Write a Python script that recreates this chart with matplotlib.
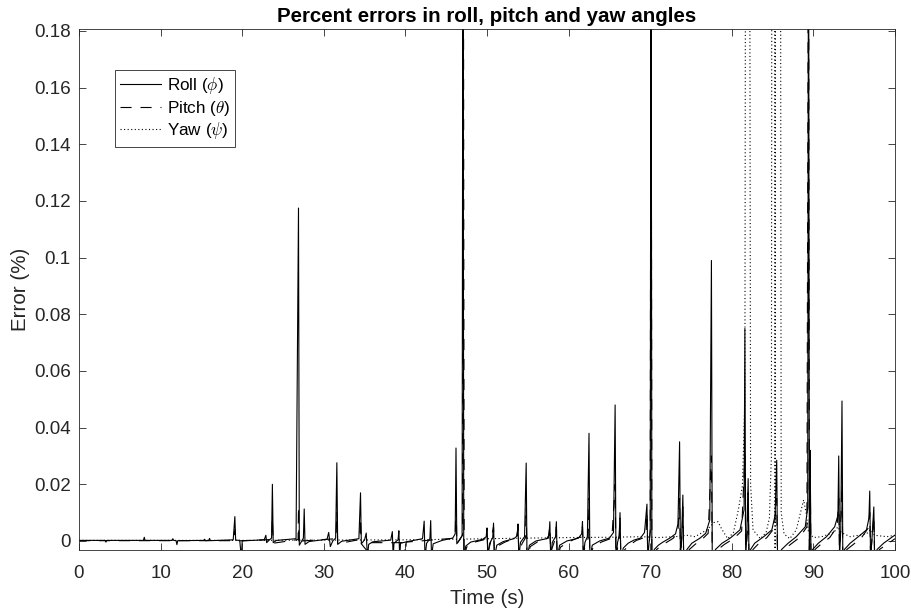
import numpy as np
import matplotlib.pyplot as plt
from matplotlib.ticker import FuncFormatter

nan = np.nan

# (time s, error %) points
roll_pts = [
    (0, 0.0002), (3.2, 0.0002), (3.3, -0.0004), (3.4, 0.0002), (7.9, 0.0002), (8.0, 0.0013), (8.1, 0.0002),
    (11.4, 0.0002), (11.5, 0.0008), (11.6, 0.0002), (11.9, 0.0001), (12.0, -0.0013), (12.1, 0.0001),
    (15.3, 0.0002), (15.4, 0.0006), (15.5, 0.0001), (15.9, 0.0002), (16.0, 0.0009), (16.1, 0.0001),
    (18.9, 0.0004), (19.1, 0.0086), (19.2, 0.0003), (19.7, 0.0002), (19.9, -0.006), (20.0, 0.0), (20.5, 0.0001),
    (22.7, 0.0004), (22.9, 0.002), (23.0, -0.0006), (23.3, 0.0003), (23.6, 0.001), (23.7, 0.020), (23.8, -0.0006),
    (24.2, 0.0002), (26.6, 0.0008), (26.9, 0.1175), (27.0, -0.0015), (27.3, 0.0), (27.5, 0.001), (27.6, 0.0113),
    (27.7, -0.0012), (28.2, -0.0002), (30.4, 0.0006), (30.6, 0.003), (30.8, -0.002), (31.1, 0.0), (31.45, 0.001),
    (31.6, 0.0276), (31.7, -0.0012), (32.2, -0.0001), (34.3, 0.0008), (34.5, 0.017), (34.6, -0.001), (35.0, 0.0004),
    (35.2, 0.0028), (35.35, -0.006), (35.5, -0.0012), (36.0, -0.0003), (38.2, 0.0003), (38.4, 0.0033), (38.5, -0.006),
    (38.6, -0.0008), (39.1, 0.0004), (39.2, 0.0036), (39.3, -0.006), (39.4, -0.0008), (40.3, -0.0002),
    (42.1, 0.0008), (42.3, 0.007), (42.4, -0.006), (42.6, -0.0008), (43.0, 0.0008), (43.1, 0.0072), (43.2, -0.006),
    (43.4, -0.001), (44.5, 0.0002), (45.8, 0.001), (46.1, 0.0025), (46.2, 0.0328), (46.3, -0.001), (46.7, 0.0006),
    (46.95, 0.002), (47.05, 0.25), (47.15, -0.006), (47.4, -0.0018), (48.0, -0.0004), (49.5, 0.0006), (49.9, 0.0015),
    (50.0, 0.0046), (50.1, -0.006), (50.3, -0.001), (50.7, 0.0012), (50.8, 0.0063), (50.9, -0.006), (51.2, -0.0015),
    (52.0, -0.0002), (53.3, 0.0008), (53.7, 0.0018), (53.8, 0.006), (53.9, -0.006), (54.1, -0.0005), (54.6, 0.0015),
    (54.8, 0.0275), (54.9, -0.006), (55.2, -0.0015), (56.0, 0.0), (57.3, 0.0008), (57.6, 0.002), (57.7, 0.0068),
    (57.8, -0.006), (58.0, -0.0005), (58.4, 0.0015), (58.5, 0.0068), (58.6, -0.006), (58.9, -0.0015), (59.8, 0.0),
    (61.2, 0.001), (61.6, 0.0025), (61.7, 0.0068), (61.8, -0.006), (62.0, -0.0005), (62.3, 0.0015), (62.5, 0.038),
    (62.6, -0.006), (62.9, -0.0015), (63.8, 0.0), (65.0, 0.001), (65.5, 0.003), (65.7, 0.048), (65.8, -0.006),
    (66.0, -0.0005), (66.2, 0.002), (66.3, 0.010), (66.4, -0.006), (66.7, -0.0025), (67.3, -0.0008), (68.0, 0.0003),
    (68.8, 0.001), (69.3, 0.003), (69.6, 0.013), (69.7, -0.006), (69.85, -0.001), (70.0, 0.004), (70.1, 0.25),
    (70.2, -0.006), (70.5, -0.003), (71.0, -0.0015), (71.5, -0.0005), (72.4, 0.001), (73.1, 0.0025), (73.4, 0.006),
    (73.6, 0.035), (73.7, -0.006), (73.85, 0.001), (74.0, 0.0162), (74.1, -0.006), (74.5, -0.003), (75.1, -0.0008),
    (76.1, 0.001), (76.8, 0.0027), (77.3, 0.0074), (77.5, 0.099), (77.6, -0.006), (78.0, -0.003), (78.8, -0.0008),
    (79.8, 0.001), (81.0, 0.0039), (81.5, 0.011), (81.6, 0.075), (81.7, -0.006), (81.85, 0.003), (82.0, 0.022),
    (82.1, -0.006), (82.3, -0.003), (82.8, -0.0008), (83.9, 0.0015), (84.9, 0.0039), (85.3, 0.009), (85.5, 0.0285),
    (85.6, -0.006), (86.1, -0.003), (86.9, -0.0008), (87.9, 0.0015), (89.0, 0.005), (89.3, 0.012), (89.4, 0.25),
    (89.5, -0.006), (89.55, 0.004), (89.6, 0.032), (89.7, -0.006), (89.9, -0.003), (90.6, -0.0008), (91.6, 0.0015),
    (92.6, 0.005), (93.0, 0.009), (93.1, 0.030), (93.2, -0.006), (93.35, 0.004), (93.5, 0.0494), (93.6, -0.006),
    (93.8, -0.003), (94.5, -0.0008), (95.5, 0.0015), (96.5, 0.0039), (96.8, 0.008), (96.9, 0.0176), (97.0, -0.006),
    (97.2, 0.002), (97.4, 0.012), (97.5, -0.006), (97.8, -0.003), (98.6, -0.0008), (99.8, 0.0017), (100, 0.002),
]

pitch_pts = [
    (0, 0.0001), (18.9, 0.0001), (19.1, 0.004), (19.2, 0.0), (23.6, 0.0005), (23.7, 0.008), (23.8, -0.0008),
    (26.85, 0.0005), (26.9, 0.012), (26.95, -0.0015), (27.4, 0.0), (31.5, 0.0008), (31.6, 0.01), (31.7, -0.001),
    (34.4, 0.0005), (34.5, 0.008), (34.6, -0.001), (35.3, -0.0035), (35.6, -0.0006), (39.9, -0.0006),
    (40.0, -0.006), (40.1, -0.0004), (46.1, 0.001), (46.2, 0.015), (46.3, -0.001), (47.0, 0.002), (47.1, 0.25),
    (47.2, -0.006), (47.5, -0.0022), (48.2, -0.0006), (49.6, 0.0004), (50.0, 0.0035), (50.1, -0.004), (50.4, -0.001),
    (50.8, 0.005), (50.9, -0.004), (51.3, -0.0018), (52.2, -0.0004), (53.6, 0.0012), (53.8, 0.0045), (53.9, -0.004),
    (54.3, -0.0009), (54.7, 0.001), (54.8, 0.012), (54.9, -0.006), (55.3, -0.002), (56.2, -0.0003), (57.5, 0.001),
    (57.7, 0.005), (57.8, -0.004), (58.4, 0.001), (58.5, 0.005), (58.6, -0.006), (59.0, -0.0022), (60.0, -0.0003),
    (61.5, 0.0015), (61.7, 0.005), (61.8, -0.004), (62.4, 0.001), (62.5, 0.015), (62.6, -0.006), (63.0, -0.0022),
    (64.0, -0.0004), (65.3, 0.001), (65.7, 0.02), (65.8, -0.006), (66.2, 0.001), (66.3, 0.008), (66.4, -0.006),
    (66.9, -0.003), (67.6, -0.0012), (68.3, 0.0002), (69.0, 0.0009), (69.5, 0.003), (69.6, 0.01), (69.7, -0.006),
    (70.0, 0.003), (70.1, 0.25), (70.2, -0.006), (70.8, -0.003), (71.4, -0.0015), (72.0, -0.0005), (72.8, 0.0009),
    (73.4, 0.003), (73.6, 0.015), (73.7, -0.006), (73.9, 0.002), (74.0, 0.012), (74.1, -0.006), (74.8, -0.003),
    (75.5, -0.0012), (76.4, 0.0007), (77.1, 0.0027), (77.5, 0.03), (77.6, -0.006), (78.3, -0.003), (79.1, -0.0012),
    (80.2, 0.0008), (81.2, 0.0035), (81.6, 0.03), (81.7, -0.006), (81.9, 0.003), (82.0, 0.017), (82.1, -0.006),
    (82.6, -0.003), (83.2, -0.0012), (84.3, 0.0012), (85.2, 0.0045), (85.5, 0.015), (85.6, -0.006), (86.4, -0.003),
    (87.2, -0.0012), (88.3, 0.0012), (89.2, 0.005), (89.4, 0.25), (89.5, -0.006), (89.6, 0.025), (89.7, -0.006),
    (90.2, -0.003), (90.9, -0.0012), (92.0, 0.0012), (92.9, 0.005), (93.1, 0.015), (93.2, -0.006), (93.5, 0.02),
    (93.6, -0.006), (94.1, -0.003), (94.9, -0.0012), (95.9, 0.0012), (96.7, 0.0045), (96.9, 0.01), (97.0, -0.006),
    (97.4, 0.009), (97.5, -0.006), (98.1, -0.003), (99.0, -0.0012), (100, 0.0008),
]

yaw_pts = [
    (0, 0.0002), (20, 0.0002), (30, 0.0003), (40, 0.0004), (46, 0.0006), (50, 0.0008), (55, 0.001), (60, 0.0012),
    (65, 0.0013), (69, 0.0015), (71, 0.0012), (73, 0.0015), (74.5, 0.002), (75.5, 0.0015), (77.0, 0.004),
    (77.8, 0.0065), (78.3, 0.0068), (78.8, 0.004), (79.5, 0.0008), (80.2, 0.003), (80.8, 0.011), (81.3, 0.0195),
    (81.6, 0.05), (81.75, 0.4), (nan, nan), (82.1, 0.4), (82.3, 0.02), (82.6, 0.0039), (83.5, 0.0008),
    (84.2, 0.003), (84.6, 0.008), (84.85, 0.03), (84.95, 0.4), (nan, nan), (85.2, 0.4), (85.3, -0.006),
    (85.4, 0.4), (nan, nan), (85.9, 0.4), (86.05, 0.01), (86.4, 0.0025), (87.1, 0.0008), (87.9, 0.0039),
    (88.5, 0.011), (88.8, 0.0145), (89.1, 0.01), (89.4, 0.003), (90.0, 0.0012), (91.0, 0.0015), (92.5, 0.003),
    (93.0, 0.005), (93.4, 0.003), (94.5, 0.0015), (96.5, 0.0025), (97.0, 0.004), (97.5, 0.002), (99, 0.0015),
    (100, 0.002),
]

plt.rcParams['font.family'] = ['Liberation Sans', 'DejaVu Sans']
plt.rcParams['mathtext.fontset'] = 'cm'

fig = plt.figure(figsize=(9.12, 6.14), dpi=100)
ax = fig.add_axes([0.0866, 0.1042, 0.8948, 0.8486])

grey = '#262626'
for pts, ls, lab in [(roll_pts, '-', r'Roll ($\phi$)'),
                     (pitch_pts, (0, (10, 8)), r'Pitch ($\theta$)'),
                     (yaw_pts, (0, (1, 2.2)), r'Yaw ($\psi$)')]:
    t, e = zip(*pts)
    ax.plot(t, e, color='black', linestyle=ls, linewidth=0.8, label=lab)

ax.set_xlim(0, 100)
ax.set_ylim(-0.0032, 0.1807)
ax.set_xticks(np.arange(0, 101, 10))
ax.set_yticks(np.arange(0, 0.181, 0.02))
ax.yaxis.set_major_formatter(FuncFormatter(lambda v, p: '%g' % round(v, 4)))
ax.tick_params(direction='in', length=5, width=0.6, top=True, right=True,
               labelsize=13.6, colors=grey)
ax.tick_params(axis='x', pad=10.5)
ax.tick_params(axis='y', pad=6)
for s in ax.spines.values():
    s.set_color(grey)
    s.set_linewidth(0.6)

ax.set_xlabel('Time (s)', fontsize=14.8, color=grey, labelpad=5)
ax.set_ylabel('Error (%)', fontsize=14.8, color=grey, labelpad=3)
ax.set_title('Percent errors in roll, pitch and yaw angles', fontsize=14.8,
             fontweight='bold', pad=5)

leg = ax.legend(loc='upper left', bbox_to_anchor=(0.044, 0.921), borderaxespad=0,
                fontsize=12.3, fancybox=False, framealpha=1, edgecolor=grey,
                handlelength=2.4, handletextpad=0.35, labelspacing=0.15, borderpad=0.3)
leg.get_frame().set_linewidth(0.6)

fig.savefig('out.png', dpi=100)
